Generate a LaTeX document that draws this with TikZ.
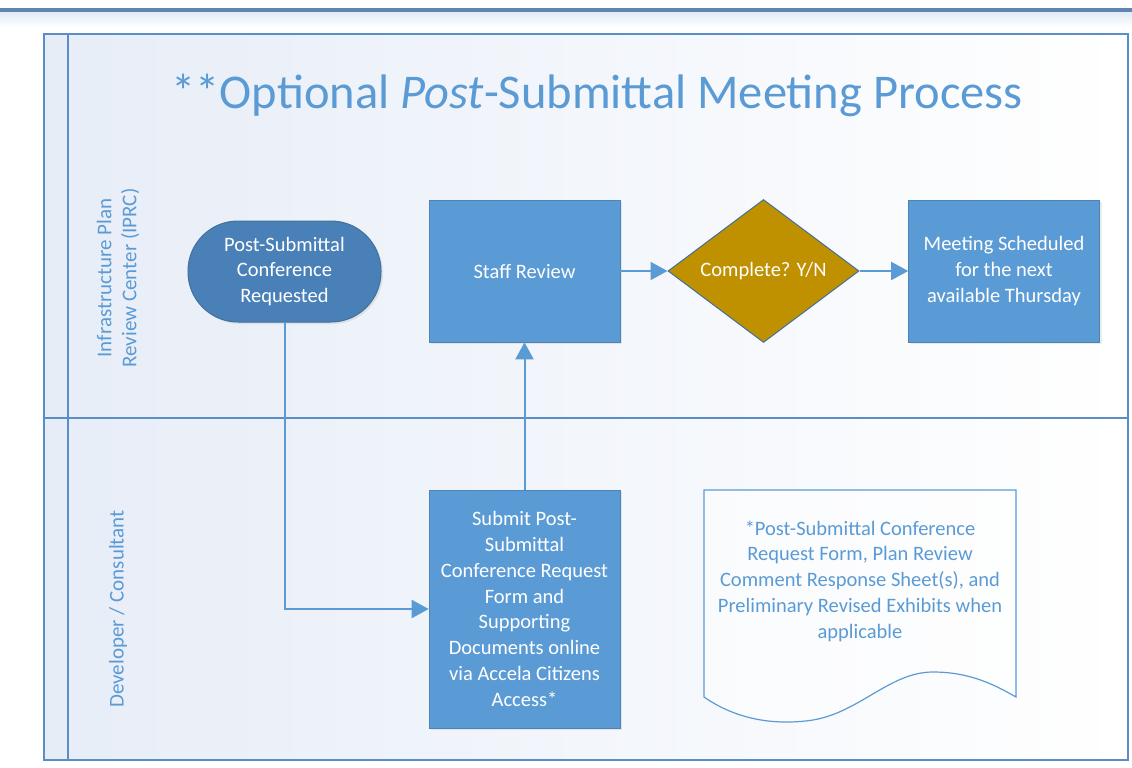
\documentclass[tikz,border=0pt]{standalone}
\usepackage{fontspec}
\setmainfont{Carlito}
\usetikzlibrary{arrows.meta,shapes.geometric,shadows}
\definecolor{accent}{HTML}{5B9BD5}
\definecolor{frame}{HTML}{5B8DC6}
\definecolor{startfill}{HTML}{4A80B8}
\definecolor{startdraw}{HTML}{41719C}
\definecolor{gold}{HTML}{BF9000}
\definecolor{lanebg}{HTML}{E7EDF7}
\definecolor{topbar}{HTML}{5E86B0}
\begin{document}
\begin{tikzpicture}[x=1pt,y=-1pt,
  txt/.style={font=\fontsize{20.5}{25.8}\selectfont, align=center},
  proc/.style={txt, draw=accent!85!black, line width=0.6pt, fill=accent, text=white, minimum width=191pt, inner sep=0pt, drop shadow={opacity=0.15, shadow xshift=2pt, shadow yshift=-2pt}},
  conn/.style={draw=accent, line width=2pt, -{Triangle[length=17pt,width=18pt]}},
  lanelabel/.style={font=\fontsize{21}{25}\selectfont, text=accent, align=center, rotate=90}
]
\useasboundingbox (0,0) rectangle (1132,768);
% top bar
\shade[top color=lanebg!80!accent!60, bottom color=white] (0,11) rectangle (1132,28);
\fill[topbar] (0,8) rectangle (1132,12);
% lanes background
\shade[left color=lanebg, right color=white] (44,34) rectangle (1128,760);
\fill[lanebg] (44,34) rectangle (68,760);
% frame
\draw[frame, line width=1.8pt] (44,34) rectangle (1128,760);
\draw[frame, line width=1.5pt] (68,34) -- (68,760);
\draw[frame, line width=1.5pt] (44,418) -- (1128,418);
% title
\node[text=accent, font=\fontsize{48.5}{56}\selectfont, anchor=base] (title) at (597,108) {**Optional \textit{Post}-Submittal Meeting Process};
% lane labels
\node[lanelabel] (lane1) at (118,278) {Infrastructure Plan\\Review Center (IPRC)};
\node[lanelabel] (lane2) at (118,609) {Developer / Consultant};
% nodes
\node[txt, rounded corners=50pt, draw=startdraw, line width=1pt, fill=startfill, text=white, minimum width=193pt, minimum height=101pt, inner sep=0pt, drop shadow={opacity=0.15, shadow xshift=2pt, shadow yshift=-2pt}] (start) at (284.5,271.5) {Post-Submittal\\Conference\\Requested};
\node[proc, minimum height=142pt] (staff) at (524.5,271) {Staff Review};
\node[txt, diamond, draw=startdraw, line width=1pt, fill=gold, text=white, minimum width=191pt, minimum height=143pt, inner sep=0pt, aspect=1.34] (complete) at (763.5,271) {Complete? Y/N};
\node[proc, minimum height=142pt] (meeting) at (1004,271) {Meeting Scheduled\\for the next\\available Thursday};
\node[proc, minimum height=238pt] (submit) at (524.5,609) {Submit Post-\\Submittal\\Conference Request\\Form and\\Supporting\\Documents online\\via Accela Citizens\\Access*};
% document shape
\draw[accent, line width=1.2pt, fill=white, fill opacity=0.5] (704,490) -- (1016,490) -- (1016,697)
  .. controls (995,685) and (970,672) .. (933,672)
  .. controls (890,672) and (860,712) .. (813,720)
  .. controls (780,725) and (740,722) .. (704,697) -- cycle;
\node[txt, text=accent] (doc) at (860,581) {*Post-Submittal Conference\\Request Form, Plan Review\\Comment Response Sheet(s), and\\Preliminary Revised Exhibits when\\applicable};
% connectors
\coordinate (bend) at (start.south |- submit.west);
\draw[conn] (staff.east) -- (complete.west);
\draw[conn] (complete.east) -- (meeting.west);
\draw[conn] (submit.north) -- (staff.south);
\draw[conn] (start.south) -- (bend) -- (submit.west);
\end{tikzpicture}
\end{document}
